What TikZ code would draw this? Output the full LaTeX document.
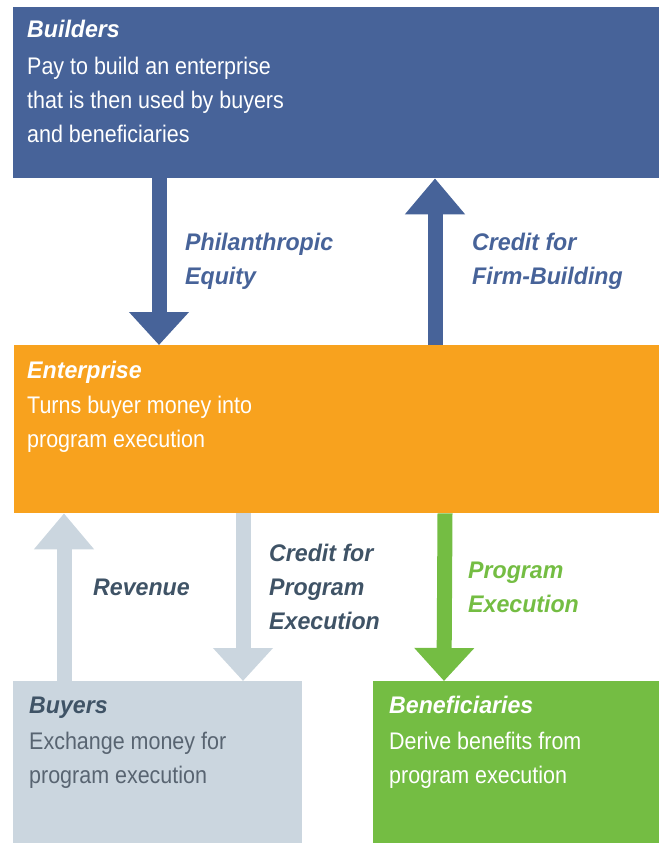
\documentclass[tikz,border=0pt]{standalone}
\usepackage{fontspec}
\usetikzlibrary{arrows.meta}
\newfontfamily\bodyfont{Liberation Sans}[FakeStretch=0.895]
\newfontfamily\labfont{Liberation Sans}[FakeStretch=0.965,UprightFont=*-Bold Italic]
\definecolor{cblue}{RGB}{71,99,153}
\definecolor{corange}{RGB}{248,162,30}
\definecolor{cgray}{RGB}{203,214,223}
\definecolor{cgreen}{RGB}{116,189,67}
\definecolor{cslate}{RGB}{63,83,102}
\definecolor{cbodygray}{RGB}{88,100,113}
\tikzset{
  box/.style={draw=none, inner sep=0pt, anchor=north west},
  ttl/.style={inner sep=0pt, anchor=base west, font=\labfont\fontsize{24}{34}\selectfont},
  bodytxt/.style={inner sep=0pt, anchor=base west, align=left, font=\bodyfont\fontsize{24}{34}\selectfont},
  lab/.style={inner sep=0pt, anchor=base west, align=left, font=\labfont\fontsize{24}{34}\selectfont},
  flow/.style={line width=15pt, -{Triangle[width=58pt,length=33pt]}},
  flowup/.style={line width=15pt, -{Triangle[width=58pt,length=36pt]}}
}
\begin{document}
\begin{tikzpicture}[x=1pt,y=-1pt]
\useasboundingbox (0,0) rectangle (659,843);
% boxes
\node[box, fill=cblue, minimum width=646pt, minimum height=171pt] (builders) at (13,7) {};
\node[box, fill=corange, minimum width=645pt, minimum height=168pt] (enterprise) at (14,345) {};
\node[box, fill=cgray, minimum width=289pt, minimum height=162pt] (buyers) at (13,681) {};
\node[box, fill=cgreen, minimum width=286pt, minimum height=162pt] (benef) at (373,681) {};
% texts in boxes (base anchor = baseline of last line)
\node[ttl, text=white] (buildersT) at (27,38) {Builders};
\node[bodytxt, text=white] (buildersB) at (27,142) {Pay to build an enterprise\\that is then used by buyers\\and beneficiaries};
\node[ttl, text=white] (enterpriseT) at (27,378) {Enterprise};
\node[bodytxt, text=white] (enterpriseB) at (27,447) {Turns buyer money into\\program execution};
\node[ttl, text=cslate] (buyersT) at (29,713) {Buyers};
\node[bodytxt, text=cbodygray] (buyersB) at (29,783) {Exchange money for\\program execution};
\node[ttl, text=white] (benefT) at (389,713) {Beneficiaries};
\node[bodytxt, text=white] (benefB) at (389,783) {Derive benefits from\\program execution};
% arrows
\draw[flow, cblue] ([xshift=146pt]builders.south west) -- ([xshift=145pt]enterprise.north west);
\draw[flowup, cblue] ([xshift=421pt]enterprise.north west) -- ([xshift=422pt]builders.south west);
\draw[flowup, cgray] ([xshift=51pt]buyers.north west) -- ([xshift=50pt]enterprise.south west);
\draw[flow, cgray] ([xshift=229pt]enterprise.south west) -- ([xshift=230pt]buyers.north west);
\draw[flow, cgreen] ([xshift=431pt]enterprise.south west) -- ([xshift=71pt]benef.north west);
% labels
\node[lab, text=cblue] (philT) at (185,284) {Philanthropic\\Equity};
\node[lab, text=cblue] (firmT) at (472,284) {Credit for\\Firm-Building};
\node[lab, text=cslate] (revT) at (93,595) {Revenue};
\node[lab, text=cslate] (progcT) at (269,629) {Credit for\\Program\\Execution};
\node[lab, text=cgreen] (progeT) at (468,612) {Program\\Execution};
\end{tikzpicture}
\end{document}
